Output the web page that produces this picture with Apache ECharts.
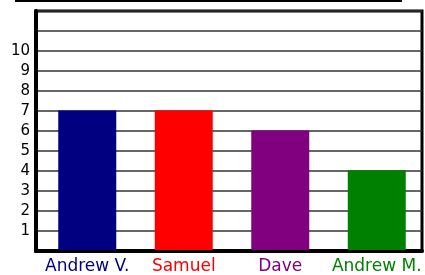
<!DOCTYPE html>
<html lang="en">
<head>
    <meta charset="UTF-8">
    <title>Bar chart</title>
    <script src="https://cdn.jsdelivr.net/npm/echarts@6/dist/echarts.min.js"></script>
    <style>
        html, body { margin: 0; padding: 0; background: #fff; }
    </style>
</head>
<body>
<div id="chart" style="width: 425px;height:275px;"></div>
<script type="text/javascript">
    var names = ['Andrew V.', 'Samuel', 'Dave', 'Andrew M.'];
    var scores = [7, 7, 6, 4];
    var colors = ['#000080', '#ff0000', '#800080', '#008000'];

    var myChart = echarts.init(document.getElementById('chart'));

    var barData = [];
    var rich = {};
    for (var i = 0; i < scores.length; i++) {
        barData.push({value: scores[i], itemStyle: {color: colors[i]}});
        rich['c' + i] = {color: colors[i], fontFamily: 'DejaVu Sans', fontSize: 17};
    }

    var option = {
        animation: false,
        graphic: [{
            type: 'line',
            shape: {x1: 15, y1: 1, x2: 402, y2: 1},
            style: {stroke: '#000', lineWidth: 2}
        }],
        grid: [
            // frame + y axis
            {left: 36, right: 3, top: 11, bottom: 24, show: true, borderColor: '#000', borderWidth: 3},
            // bars, shifted a bit right like the original
            {left: 39, right: 0, top: 11, bottom: 24}
        ],
        xAxis: [{
            gridIndex: 0,
            type: 'category',
            data: names,
            axisLine: {lineStyle: {color: '#000', width: 4}},
            axisTick: {show: false},
            axisLabel: {show: false}
        }, {
            gridIndex: 1,
            type: 'category',
            data: names,
            axisLine: {show: false},
            axisTick: {show: false},
            axisLabel: {
                interval: 0,
                margin: 8,
                formatter: function (value) {
                    return '{c' + names.indexOf(value) + '|' + value + '}';
                },
                rich: rich
            }
        }],
        yAxis: [{
            gridIndex: 0,
            type: 'value',
            min: 0, max: 12, interval: 1,
            axisLine: {show: true, lineStyle: {color: '#000', width: 4}},
            axisTick: {show: false},
            axisLabel: {
                margin: 6,
                fontFamily: 'DejaVu Sans',
                fontSize: 15,
                color: '#000',
                formatter: function (v) {
                    return (v >= 1 && v <= 10) ? v : '';
                }
            },
            splitLine: {lineStyle: {color: '#333', width: 1.5}}
        }, {
            gridIndex: 1,
            type: 'value',
            min: 0, max: 12, interval: 1,
            show: false
        }],
        series: [{
            type: 'bar',
            xAxisIndex: 1,
            yAxisIndex: 1,
            barWidth: 58,
            data: barData
        }]
    };
    myChart.setOption(option);
</script>
</body>
</html>
